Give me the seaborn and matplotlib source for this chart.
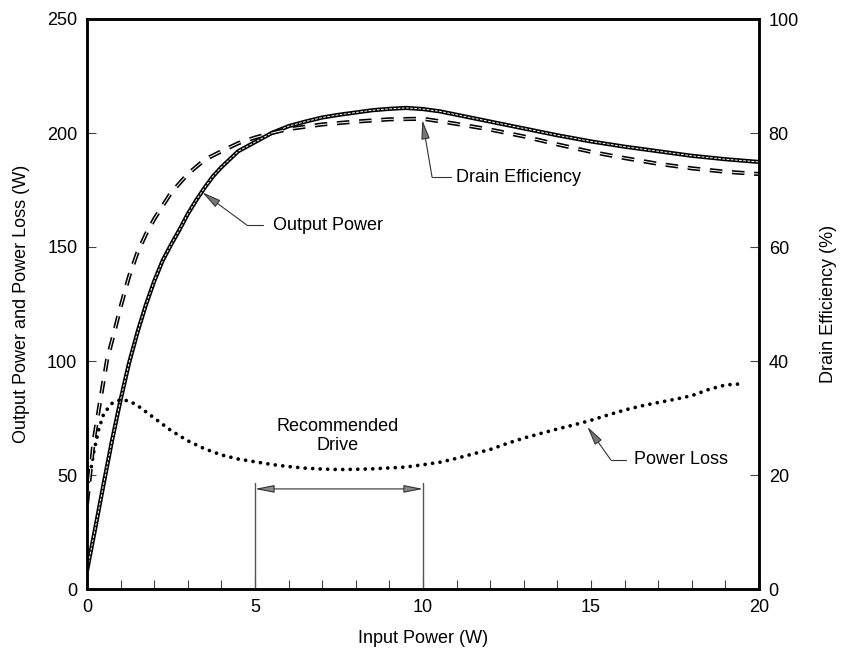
import numpy as np
import pandas as pd
import seaborn as sns
import matplotlib.pyplot as plt
from matplotlib.ticker import MultipleLocator

# values
input_w = [0, 0.25, 0.5, 0.75, 1.0, 1.25, 1.5, 1.75, 2.0, 2.25, 2.5, 2.75, 3.0, 3.25, 3.5,
           3.75, 4.0, 4.5, 5.0, 5.5, 6.0, 6.5, 7.0, 7.5, 8.0, 8.5, 9.0, 9.5, 10.0, 10.5,
           11.0, 12.0, 13.0, 14.0, 15.0, 16.0, 17.0, 18.0, 19.0, 20.0]
output_power = [8, 27, 46.5, 65.5, 83, 99, 112.5, 124.5, 135, 144, 151, 157.5, 164.5, 170.5, 176,
                181, 185, 192, 196, 200, 203, 205, 206.8, 208, 209, 210, 210.6, 211, 210.5, 209.5,
                208, 205, 202, 199, 196.3, 194, 192, 190, 188.5, 187.3]

eff_w = [0, 0.1, 0.2, 0.4, 0.6, 0.8, 1.0, 1.25, 1.5, 1.75, 2.0, 2.5, 3.0, 3.5, 4.0, 4.5,
         5.0, 5.5, 6.0, 7.0, 8.0, 9.0, 10.0, 11.0, 12.0, 13.0, 14.0, 15.0, 16.0, 17.0,
         18.0, 19.0, 20.0]
drain_eff = [15, 20.5, 26, 33.3, 40.3, 44.8, 49.5, 54.8, 59, 62.2, 64.9, 69.5, 72.8, 75.3,
             76.8, 78.2, 79.2, 80.0, 80.7, 81.5, 82.0, 82.4, 82.5, 81.6, 80.6, 79.4, 78.0,
             76.7, 75.6, 74.6, 73.8, 73.2, 72.8]

loss_w = [0, 0.1, 0.2, 0.35, 0.5, 0.75, 1.0, 1.25, 1.5, 2.0, 2.5, 3.0, 3.5, 4.0, 4.5, 5.0,
          5.5, 6.0, 6.5, 7.0, 7.5, 8.0, 8.5, 9.0, 9.5, 10.0, 10.5, 11.0, 11.5, 12.0, 12.5,
          13.0, 13.5, 14.0, 14.5, 15.0, 15.5, 16.0, 16.5, 17.0, 17.5, 18.0, 18.5, 19.0, 19.5]
power_loss = [44, 51, 60, 70, 77, 81.5, 83, 82.5, 80.5, 75, 69.5, 65, 61.5, 58.8, 57, 55.8,
              54.6, 53.7, 53, 52.6, 52.4, 52.5, 52.7, 53.1, 53.5, 54.5, 55.6, 57.3, 59.3, 61.2,
              63.8, 66.2, 68.2, 70.2, 72, 74, 76.3, 78.5, 80.3, 81.8, 83.2, 84.8, 87.5, 89.5, 90]

x_ticks = [0, 5, 10, 15, 20]
left_ticks = [0, 50, 100, 150, 200, 250]
right_ticks = [0, 20, 40, 60, 80, 100]

sns.set_style("ticks")
plt.rcParams['font.family'] = ['Liberation Sans', 'DejaVu Sans']
plt.rcParams['font.size'] = 13
plt.rcParams['lines.scale_dashes'] = False
plt.rcParams['text.color'] = 'black'
plt.rcParams['axes.labelcolor'] = 'black'
plt.rcParams['xtick.color'] = 'black'
plt.rcParams['ytick.color'] = 'black'

fig = plt.figure(figsize=(8.41, 6.51), dpi=100)
ax = fig.add_axes([87 / 841, 62 / 651, 672 / 841, 570 / 651])
ax2 = ax.twinx()

# output power: double line look
sns.lineplot(x=input_w, y=output_power, ax=ax, color='black', lw=3.0)
sns.lineplot(x=input_w, y=output_power, ax=ax, color='white', lw=0.7)
ax.lines[-1].set_dashes((2, 1))

# power loss: round dots
sns.lineplot(x=loss_w, y=power_loss, ax=ax, color='black', lw=2.7)
ax.lines[-1].set_dashes((0.01, 5.4))
ax.lines[-1].set_dash_capstyle('round')

# drain efficiency: hollow dashes on the right axis
sns.lineplot(x=eff_w, y=drain_eff, ax=ax2, color='black', lw=3.0)
ax2.lines[-1].set_dashes((9, 7))
sns.lineplot(x=eff_w, y=drain_eff, ax=ax2, color='white', lw=0.7)
ax2.lines[-1].set_dashes((9, 7))

ax.set_xlim(0, 20)
ax.set_ylim(0, 250)
ax2.set_ylim(0, 100)
ax.set_xticks(x_ticks)
ax.set_yticks(left_ticks)
ax2.set_yticks(right_ticks)
ax.xaxis.set_minor_locator(MultipleLocator(1))

for a in (ax, ax2):
    for s in a.spines.values():
        s.set_linewidth(1.8)
        s.set_color('black')
        s.set_visible(True)
    a.tick_params(which='both', direction='in', length=6.5, width=0.8, color='#444444',
                  labelsize=13, pad=7, labelcolor='black')
ax.tick_params(axis='x', which='both', top=False)
ax.tick_params(axis='y', right=False)

ax.set_xlabel("Input Power (W)", fontsize=13, labelpad=10)
ax.set_ylabel("Output Power and Power Loss (W)", fontsize=13, labelpad=12)
ax2.set_ylabel("Drain Efficiency (%)", fontsize=13, labelpad=15)

# callouts
arrow_kw = dict(arrowstyle='-|>,head_length=0.9,head_width=0.2', lw=0.8,
                color='#333333', fc='#777777', shrinkA=0, shrinkB=0)
callouts = [
    ("Output Power", (3.43, 174), (4.76, 159.6), 5.25, 5.54),
    ("Drain Efficiency", (9.98, 205.7), (10.27, 180.6), 10.82, 10.97),
    ("Power Loss", (14.89, 71.2), (15.59, 56.6), 16.04, 16.27),
]
for label, tip, corner, seg_end, tx in callouts:
    ax.annotate("", xy=tip, xytext=corner, arrowprops=arrow_kw)
    ax.plot([corner[0], seg_end], [corner[1], corner[1]], color='#333333', lw=0.8)
    ax.text(tx, corner[1], label, va='center', ha='left', fontsize=13)

# recommended drive bracket
for xv in (5, 10):
    ax.plot([xv, xv], [0, 46.4], color='#555555', lw=1.0)
ax.annotate("", xy=(5, 43.9), xytext=(10, 43.9),
            arrowprops=dict(arrowstyle='<|-|>,head_length=0.9,head_width=0.18', lw=0.8,
                            color='#333333', fc='#888888', shrinkA=0, shrinkB=0))
ax.text(7.45, 67, "Recommended\nDrive", ha='center', va='center', fontsize=13,
        linespacing=1.13)

fig.savefig("out.png", dpi=100)
